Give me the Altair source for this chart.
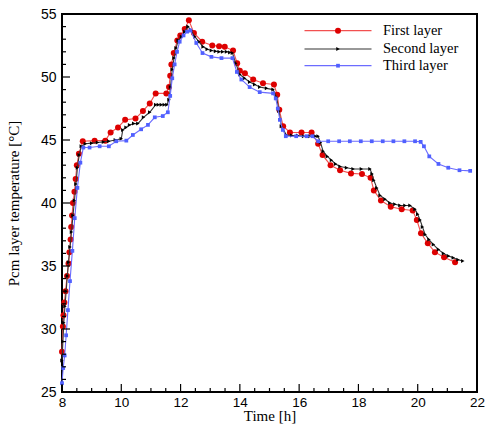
import altair as alt
import pandas as pd

series_names = ["First layer", "Second layer", "Third layer"]

red_t = [8.00, 8.03, 8.05, 8.08, 8.12, 8.17, 8.22, 8.25, 8.29, 8.31, 8.34, 8.37, 8.42, 8.46, 8.50, 8.57, 8.70,
         9.10, 9.46, 9.64, 9.89, 10.13, 10.48, 10.73, 10.96, 11.16, 11.52, 11.61, 11.65, 11.69, 11.77, 11.89,
         11.99, 12.14, 12.28, 12.45, 12.73, 13.07, 13.30, 13.49, 13.77, 13.91, 14.00, 14.17, 14.45, 14.78,
         15.15, 15.26, 15.33, 15.46, 15.69, 16.08, 16.42, 16.64, 16.79, 17.06, 17.38, 17.75, 18.12, 18.41,
         18.52, 18.76, 19.09, 19.46, 19.83, 19.97, 20.11, 20.34, 20.58, 20.89, 21.26]
red_T = [28.2, 30.2, 31.1, 32.1, 33.0, 34.2, 35.2, 36.1, 37.1, 38.1, 39.0, 40.0, 40.9, 41.9, 43.0, 43.9, 44.9,
         44.95, 44.95, 45.6, 46.0, 46.6, 46.7, 47.3, 47.9, 48.7, 48.7, 49.2, 50.1, 51.0, 51.9, 52.9,
         53.3, 53.8, 54.5, 53.5, 52.8, 52.5, 52.45, 52.4, 52.1, 51.1, 50.5, 50.3, 49.8, 49.5,
         49.4, 48.6, 47.4, 46.1, 45.6, 45.6, 45.6, 44.7, 43.8, 43.0, 42.6, 42.35, 42.3, 42.0,
         41.0, 40.2, 39.7, 39.5, 39.4, 38.65, 37.6, 36.8, 36.1, 35.7, 35.3]

black_t = [8.00, 8.03, 8.06, 8.10, 8.14, 8.18, 8.22, 8.27, 8.32, 8.37, 8.42, 8.47, 8.52, 8.58, 8.65, 8.79,
           9.00, 9.20, 9.40, 9.58, 9.80, 10.00, 10.05, 10.16, 10.28, 10.42, 10.56, 10.75, 10.96, 11.16,
           11.25, 11.35, 11.45, 11.54, 11.61, 11.66, 11.72, 11.78, 11.85, 11.92, 12.03, 12.14, 12.25,
           12.36, 12.48, 12.62, 12.76, 12.90, 13.04, 13.18, 13.30, 13.42, 13.55, 13.66, 13.75, 13.86,
           14.00, 14.16, 14.33, 14.50, 14.67, 14.90, 15.12, 15.24, 15.32, 15.40, 15.57, 15.75, 15.95,
           16.15, 16.36, 16.55, 16.64, 16.72, 16.81, 16.95, 17.09, 17.23, 17.38, 17.60, 17.82, 18.10,
           18.39, 18.46, 18.52, 18.62, 18.73, 18.90, 19.06, 19.23, 19.40, 19.57, 19.74, 19.91, 20.00,
           20.08, 20.16, 20.25, 20.38, 20.53, 20.70, 20.87, 21.04, 21.20, 21.36, 21.52]
black_T = [27.5, 29.0, 30.5, 31.8, 33.0, 34.2, 35.3, 36.5, 37.7, 39.0, 40.2, 41.5, 42.8, 43.8, 44.5, 44.7,
           44.75, 44.8, 44.85, 44.9, 45.0, 45.1, 45.8, 46.0, 46.2, 46.3, 46.3, 46.8, 47.2, 47.8,
           47.8, 47.8, 47.8, 47.8, 48.2, 49.2, 50.6, 51.5, 52.3, 52.9, 53.2, 53.6, 54.0,
           53.7, 53.2, 52.8, 52.4, 52.2, 52.1, 52.05, 52.0, 52.0, 52.0, 51.95, 51.9, 51.1,
           50.2, 49.9, 49.6, 49.4, 49.2, 49.1, 49.0, 48.4, 47.3, 46.1, 45.4, 45.35, 45.35,
           45.3, 45.3, 45.3, 45.3, 44.8, 44.1, 43.7, 43.4, 43.1, 42.9, 42.8, 42.7, 42.7,
           42.7, 42.3, 41.8, 41.2, 40.6, 40.3, 40.0, 39.9, 39.8, 39.8, 39.8, 39.5, 39.1,
           38.65, 38.1, 37.5, 37.1, 36.7, 36.3, 36.0, 35.8, 35.65, 35.5, 35.4]

blue_t = [8.00, 8.04, 8.09, 8.14, 8.20, 8.27, 8.35, 8.43, 8.52, 8.62, 8.72, 8.93, 9.27, 9.58, 9.83, 10.17,
          10.39, 10.67, 10.90, 11.13, 11.40, 11.57, 11.65, 11.72, 11.80, 11.88, 11.97, 12.10, 12.22, 12.33,
          12.53, 12.74, 13.04, 13.38, 13.75, 13.90, 14.05, 14.33, 14.67, 15.12, 15.21, 15.28, 15.35,
          15.45, 15.55, 15.90, 16.25, 16.45, 16.64, 16.98, 17.35, 17.71, 18.08, 18.45, 18.82, 19.18,
          19.55, 19.91, 20.10, 20.21, 20.39, 20.70, 21.03, 21.41, 21.77]
blue_T = [25.7, 26.9, 27.9, 29.5, 31.5, 33.8, 36.2, 38.8, 41.2, 43.2, 44.4, 44.4, 44.5, 44.5, 44.9, 44.95,
          45.4, 45.85, 46.2, 46.8, 46.9, 47.2, 48.5, 49.9, 51.0, 52.0, 52.8, 53.3, 53.6, 53.7,
          52.7, 51.9, 51.6, 51.5, 51.5, 50.4, 49.8, 49.2, 48.8, 48.7, 48.3, 47.5, 46.6,
          45.8, 45.3, 45.3, 45.3, 45.3, 44.9, 44.9, 44.9, 44.9, 44.9, 44.9, 44.9, 44.9,
          44.9, 44.9, 44.85, 44.5, 43.7, 43.1, 42.8, 42.6, 42.55]

x_major = [8, 10, 12, 14, 16, 18, 20, 22]
y_major = [25, 30, 35, 40, 45, 50, 55]
x_minor = [v / 2 for v in range(17, 44) if v % 4 != 0]
y_minor = [v for v in range(26, 55) if v % 5 != 0]

W, H = 415, 378
NUM_FONT = "Liberation Sans"
TXT_FONT = "Liberation Serif"

xs = alt.Scale(domain=[8, 22], nice=False, zero=False)
ys = alt.Scale(domain=[25, 55], nice=False, zero=False)

X = alt.X("t:Q", scale=xs, axis=alt.Axis(values=x_major, ticks=False, domain=False, grid=False,
                                         title="Time [h]", labelFont=NUM_FONT, labelFontSize=13.5,
                                         labelColor="black", labelPadding=3, titleFont=TXT_FONT,
                                         titleFontSize=15, titleFontWeight="normal", titleColor="black",
                                         titlePadding=0, labelFlush=False))
Y = alt.Y("T:Q", scale=ys, axis=alt.Axis(values=y_major, ticks=False, domain=False, grid=False,
                                         title="Pcm layer temperature [°C]", labelFont=NUM_FONT,
                                         labelFontSize=14, labelColor="black", labelPadding=6,
                                         titleFont=TXT_FONT, titleFontSize=15, titleFontWeight="normal",
                                         titleColor="black", titlePadding=19, labelFlush=False))

line_cols = ["#f25050", "#333333", "#6c6cff"]
mark_cols = ["#dd0000", "#000000", "#5060ff"]
shapes = ["circle", "triangle-right", "square"]
sizes = [36, 16, 14]
data_t = [red_t, black_t, blue_t]
data_T = [red_T, black_T, blue_T]
leg_y = [16.7, 35, 51.7]

layers = []
for i in range(3):
    df = pd.DataFrame({"t": data_t[i], "T": data_T[i]})
    base = alt.Chart(df)
    layers.append(base.mark_line(strokeWidth=1.1, color=line_cols[i]).encode(x=X, y=Y))
    layers.append(base.mark_point(filled=True, opacity=1, shape=shapes[i], size=sizes[i],
                                  color=mark_cols[i]).encode(x=X, y=Y))

# inward ticks
for vals, size in [(x_major, 8), (x_minor, 4)]:
    layers.append(alt.Chart(pd.DataFrame({"t": vals})).mark_rule(color="black", strokeWidth=1.2)
                  .encode(x=X, y=alt.value(H), y2=alt.value(H - size)))
for vals, size in [(y_major, 8), (y_minor, 4)]:
    layers.append(alt.Chart(pd.DataFrame({"T": vals})).mark_rule(color="black", strokeWidth=1.2)
                  .encode(y=Y, x=alt.value(0), x2=alt.value(size)))

# legend
for i in range(3):
    ldf = pd.DataFrame({"label": [series_names[i]]})
    lb = alt.Chart(ldf)
    layers.append(lb.mark_rule(color=line_cols[i], strokeWidth=1.2)
                  .encode(x=alt.value(242.5), x2=alt.value(309.5), y=alt.value(leg_y[i])))
    layers.append(lb.mark_point(filled=True, opacity=1, shape=shapes[i], size=sizes[i], color=mark_cols[i])
                  .encode(x=alt.value(276), y=alt.value(leg_y[i])))
    layers.append(lb.mark_text(align="left", baseline="middle", font=TXT_FONT, fontSize=14.5, color="black")
                  .encode(x=alt.value(321), y=alt.value(leg_y[i]), text="label:N"))

chart = alt.layer(*layers).properties(
    width=W, height=H,
    autosize=alt.AutoSizeParams(type="none"),
    padding={"left": 62, "top": 14, "right": 11, "bottom": 36},
    background="white",
).configure_view(stroke="black", strokeWidth=2)

chart.save("out.html", embed_options={"renderer": "svg", "actions": False})
